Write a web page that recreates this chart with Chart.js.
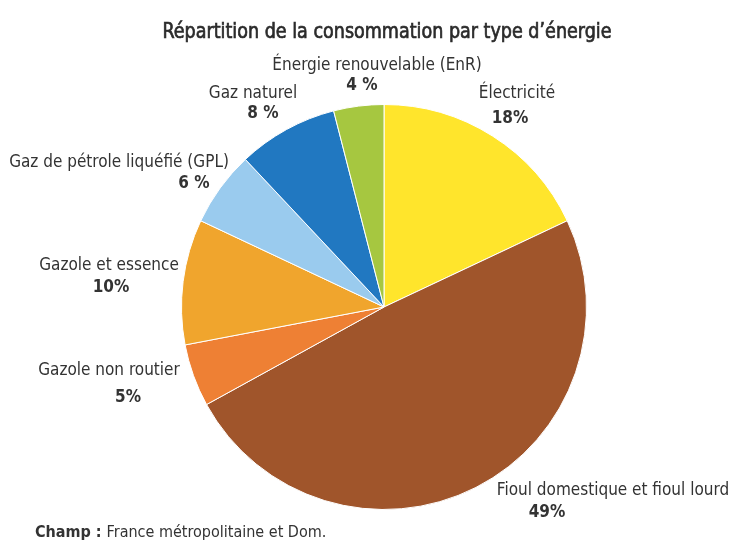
<!DOCTYPE html>
<html lang="fr">
<head>
<meta charset="UTF-8">
<title>Répartition de la consommation par type d'énergie</title>
<script src="https://cdn.jsdelivr.net/npm/chart.js"></script>
<style>
    html, body { margin: 0; padding: 0; background: #fff; }
    #wrap { width: 731px; height: 548px; }
</style>
</head>
<body>
<div id="wrap"><canvas id="pie" width="731" height="548"></canvas></div>
<script>
    // data, clockwise from 12 o'clock
    const categories = ['Électricité', 'Fioul domestique et fioul lourd', 'Gazole non routier',
        'Gazole et essence', 'Gaz de pétrole liquéfié (GPL)', 'Gaz naturel', 'Énergie renouvelable (EnR)'];
    const shares = [18, 49, 5, 10, 6, 8, 4];
    const shareLabels = ['18%', '49%', '5%', '10%', '6 %', '8 %', '4 %'];

    const colors = ['#FFE52C', '#A0552B', '#EE8034', '#F0A52D', '#9ACBEE', '#2178C1', '#A6C740'];
    // label anchors relative to the pie centre: [name dx, name dy, pct dx, pct dy]
    const labelLayout = [
        [133, -209, 126, -184],
        [229, 188, 163, 210],
        [-275, 68, -256, 95],
        [-275, -37, -273, -15],
        [-265, -140, -190, -119],
        [-131, -209, -121, -189],
        [-7, -237, -22, -217]
    ];

    const FONT = '"Liberation Sans Narrow", "DejaVu Sans Condensed", "Roboto Condensed", "Liberation Sans", sans-serif';
    const TEXT = '#333333';

    const textPlugin = {
        id: 'texts',
        afterDraw(chart) {
            const c = chart.ctx;
            const arc = chart.getDatasetMeta(0).data[0];
            const cx = arc.x, cy = arc.y;
            c.save();

            // title: semi-bold look, squeezed a little to the original width
            const title = 'Répartition de la consommation par type d’énergie';
            c.fillStyle = '#2b2b2b';
            c.strokeStyle = '#2b2b2b';
            c.lineWidth = 0.7;
            c.textAlign = 'center';
            c.textBaseline = 'alphabetic';
            c.font = '22px ' + FONT;
            const tw = c.measureText(title).width;
            const sx = Math.min(1, 449 / tw);
            c.save();
            c.translate(387, 38);
            c.scale(sx, 1);
            c.fillText(title, 0, 0);
            c.strokeText(title, 0, 0);
            c.restore();

            categories.forEach((name, i) => {
                const l = labelLayout[i];
                c.fillStyle = TEXT;
                c.font = '17px ' + FONT;
                c.fillText(name, cx + l[0], cy + l[1]);
                c.font = 'bold 17px ' + FONT;
                c.fillText(shareLabels[i], cx + l[2], cy + l[3]);
            });

            c.textAlign = 'left';
            c.font = 'bold 16px ' + FONT;
            c.fillStyle = TEXT;
            const lead = 'Champ :';
            c.fillText(lead, 35, 537);
            const w = c.measureText(lead + ' ').width;
            c.font = '16px ' + FONT;
            c.fillText('France métropolitaine et Dom.', 35 + w, 537);
            c.restore();
        }
    };

    new Chart(document.getElementById('pie'), {
        type: 'pie',
        data: {
            labels: categories,
            datasets: [{
                data: shares,
                backgroundColor: colors,
                borderColor: '#ffffff',
                borderWidth: 1
            }]
        },
        options: {
            responsive: false,
            animation: false,
            layout: { padding: { top: 104, bottom: 38, left: 100, right: 63 } },
            plugins: {
                legend: { display: false },
                tooltip: { enabled: false },
                title: { display: false }
            }
        },
        plugins: [textPlugin]
    });
</script>
</body>
</html>
